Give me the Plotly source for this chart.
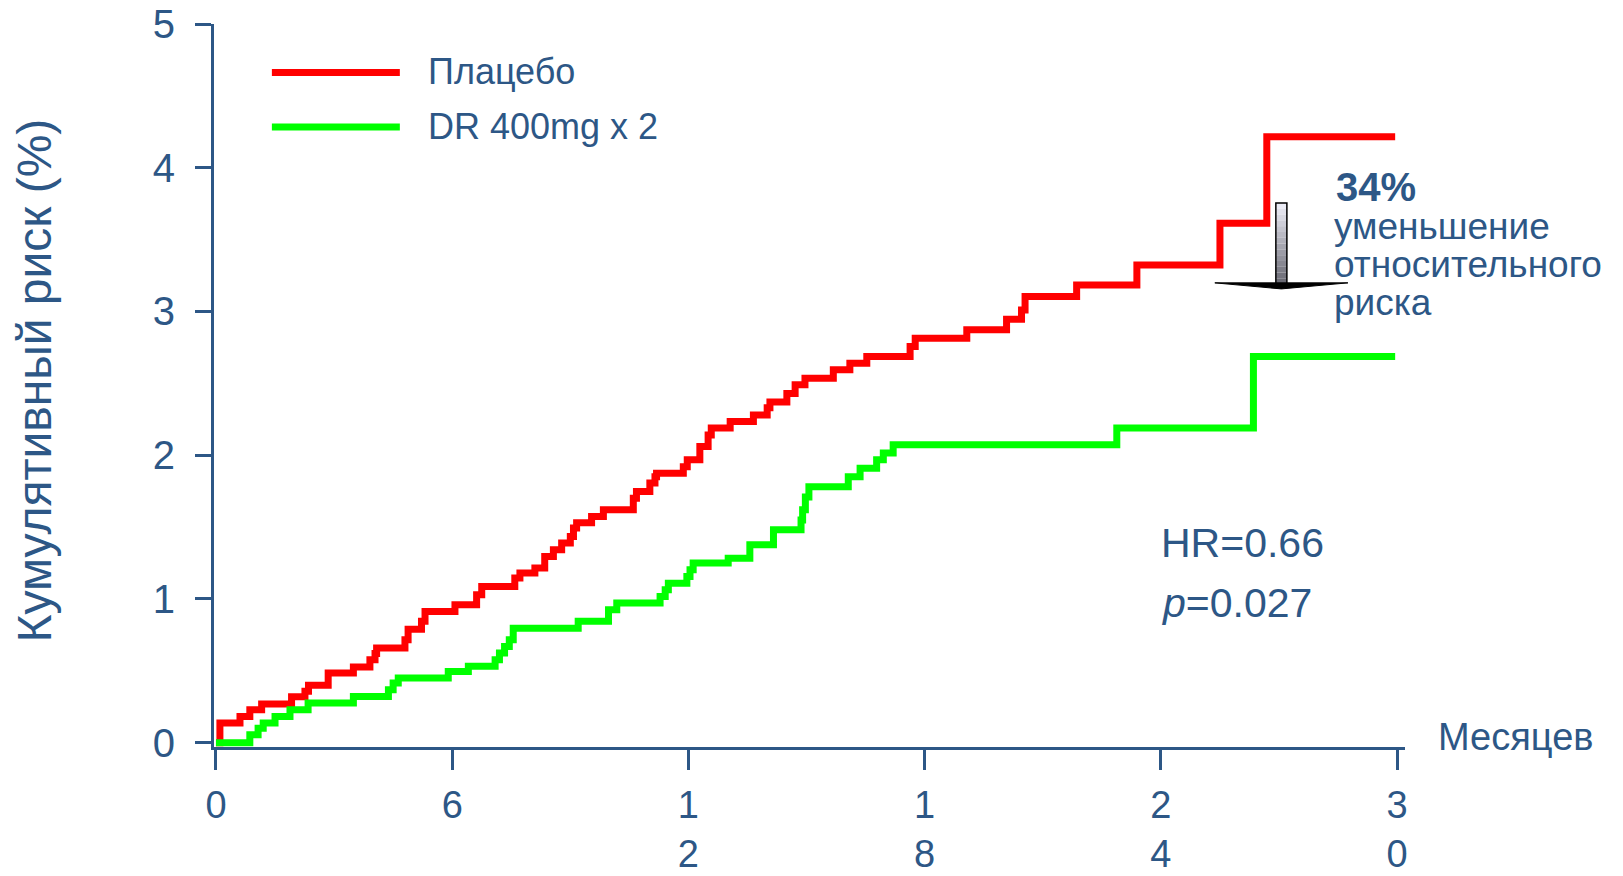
import plotly.graph_objects as go

# Cumulative risk (%) by month, step data
red_months = [0, 0.10, 0.61, 0.86, 1.16, 1.92, 2.26, 2.35, 2.85, 3.49, 3.91, 4.04, 4.08, 4.80, 4.88,
              5.22, 5.31, 6.07, 6.62, 6.75, 7.59, 7.72, 8.10, 8.35, 8.57, 8.78, 9.00, 9.08, 9.16, 9.54,
              9.84, 10.60, 10.68, 11.02, 11.15, 11.19, 11.87, 11.97, 12.29, 12.50, 12.58, 13.06, 13.65,
              14.00, 14.07, 14.50, 14.71, 14.96, 15.68, 16.10, 16.53, 17.63, 17.76, 19.07, 20.08, 20.46,
              20.55, 21.86, 23.39, 25.50, 26.69, 29.95]
red_risk = [0, 0.137, 0.183, 0.23, 0.27, 0.32, 0.357, 0.40, 0.485, 0.526, 0.577, 0.62, 0.658, 0.716, 0.79,
            0.844, 0.913, 0.96, 1.03, 1.087, 1.145, 1.18, 1.215, 1.296, 1.342, 1.389, 1.435, 1.493, 1.53,
            1.574, 1.62, 1.70, 1.748, 1.806, 1.85, 1.875, 1.92, 1.968, 2.06, 2.14, 2.19, 2.235, 2.28, 2.33,
            2.37, 2.43, 2.49, 2.536, 2.594, 2.64, 2.686, 2.756, 2.814, 2.872, 2.946, 3.011, 3.104, 3.185,
            3.324, 3.614, 4.216, 4.216]

green_months = [0, 0.86, 1.07, 1.20, 1.50, 1.88, 2.34, 3.49, 4.38, 4.50, 4.63, 5.90, 6.41, 7.09, 7.20,
                7.33, 7.45, 7.55, 9.20, 9.97, 10.18, 11.28, 11.41, 11.49, 11.96, 12.04, 12.12, 13.01,
                13.56, 14.16, 14.86, 14.90, 14.97, 15.06, 16.06, 16.36, 16.78, 16.95, 17.20, 22.88,
                26.35, 29.95]
green_risk = [0, 0.056, 0.10, 0.137, 0.183, 0.23, 0.276, 0.322, 0.369, 0.415, 0.45, 0.496, 0.531, 0.577,
              0.624, 0.67, 0.716, 0.797, 0.844, 0.925, 0.971, 1.017, 1.064, 1.11, 1.157, 1.203, 1.25,
              1.284, 1.377, 1.481, 1.55, 1.62, 1.71, 1.78, 1.85, 1.91, 1.968, 2.015, 2.072, 2.19, 2.686,
              2.686]

series_names = ["Плацебо", "DR 400mg x 2"]
x_tick_vals = [0, 6, 12, 18, 24, 30]
x_tick_text = ["0", "6", "1<br>2", "1<br>8", "2<br>4", "3<br>0"]
y_tick_vals = [0, 1, 2, 3, 4, 5]

BLUE = "#2D5786"
RED = "#FF0000"
GREEN = "#00FF00"
FONT = "Liberation Sans, Arial, sans-serif"

fig = go.Figure()
fig.add_trace(go.Scatter(x=red_months, y=red_risk, mode="lines", name=series_names[0],
                         line=dict(color=RED, width=7, shape="hv")))
fig.add_trace(go.Scatter(x=green_months, y=green_risk, mode="lines", name=series_names[1],
                         line=dict(color=GREEN, width=7, shape="hv")))

shapes = []
# legend swatches
shapes.append(dict(type="line", xref="x", yref="y", x0=1.42, x1=4.67, y0=4.663, y1=4.663,
                   line=dict(color=RED, width=7)))
shapes.append(dict(type="line", xref="x", yref="y", x0=1.42, x1=4.67, y0=4.284, y1=4.284,
                   line=dict(color=GREEN, width=7)))

# gradient arrow shaft
bx0, bx1, btop, bbot = 26.92, 27.20, 3.755, 3.19
n = 14
for i in range(n):
    t = i / (n - 1)
    c = int(236 - t * 130)
    y_hi = btop - (btop - bbot) * i / n
    y_lo = btop - (btop - bbot) * (i + 1) / n
    shapes.append(dict(type="rect", xref="x", yref="y", x0=bx0, x1=bx1, y0=y_lo, y1=y_hi,
                       fillcolor=f"rgb({c},{c},{min(255, c + 10)})", line=dict(width=0)))
shapes.append(dict(type="rect", xref="x", yref="y", x0=bx0, x1=bx1, y0=bbot, y1=btop,
                   line=dict(color="black", width=1.5)))
# flat arrow head
shapes.append(dict(type="path", xref="x", yref="y",
                   path="M 25.37,3.199 L 28.75,3.199 L 27.06,3.157 Z",
                   fillcolor="black", line=dict(color="black", width=1)))

annotations = [
    dict(text=series_names[0], x=5.33, y=4.67, xanchor="left", yanchor="middle",
         font=dict(size=36, color=BLUE)),
    dict(text=series_names[1], x=5.33, y=4.29, xanchor="left", yanchor="middle",
         font=dict(size=36, color=BLUE)),
    dict(text="<b>34%</b>", x=28.40, y=3.866, xanchor="left", yanchor="middle",
         font=dict(size=40, color=BLUE)),
    dict(text="уменьшение", x=28.35, y=3.588, xanchor="left", yanchor="middle",
         font=dict(size=37, color=BLUE)),
    dict(text="относительного", x=28.35, y=3.324, xanchor="left", yanchor="middle",
         font=dict(size=37, color=BLUE)),
    dict(text="риска", x=28.35, y=3.06, xanchor="left", yanchor="middle",
         font=dict(size=37, color=BLUE)),
    dict(text="HR=0.66", x=23.95, y=1.391, xanchor="left", yanchor="middle",
         font=dict(size=41, color=BLUE)),
    dict(text="<i>p</i>=0.027", x=23.95, y=0.974, xanchor="left", yanchor="middle",
         font=dict(size=41, color=BLUE)),
    dict(text="Месяцев", xref="paper", yref="paper", x=1.0, y=0.0, xanchor="left",
         yanchor="middle", xshift=31, yshift=10, font=dict(size=38, color=BLUE)),
    dict(text="Кумулятивный риск (%)", xref="paper", yref="paper", x=0, y=0.5,
         xanchor="center", yanchor="middle", xshift=-180, yshift=5, textangle=-90,
         font=dict(size=48, color=BLUE)),
]
for a in annotations:
    a.setdefault("xref", "x")
    a.setdefault("yref", "y")
    a["showarrow"] = False

fig.update_layout(
    width=1623, height=876,
    margin=dict(l=214, r=218, t=24, b=129, autoexpand=False),
    paper_bgcolor="white", plot_bgcolor="white",
    showlegend=False,
    font=dict(family=FONT, color=BLUE),
    shapes=shapes,
    annotations=annotations,
    xaxis=dict(range=[-0.05, 30.2], tickvals=x_tick_vals, ticktext=x_tick_text,
               showline=True, linecolor=BLUE, linewidth=3, showgrid=False, zeroline=False,
               ticks="outside", ticklen=20, tickwidth=2.5, tickcolor=BLUE,
               tickfont=dict(size=38, color=BLUE, family=FONT), ticklabelstandoff=2),
    yaxis=dict(range=[-0.03, 5], tickvals=y_tick_vals,
               showline=True, linecolor=BLUE, linewidth=3, showgrid=False, zeroline=False,
               ticks="outside", ticklen=16, tickwidth=2.5, tickcolor=BLUE,
               tickfont=dict(size=40, color=BLUE, family=FONT), ticklabelstandoff=12),
)

fig.write_html("out.html")
